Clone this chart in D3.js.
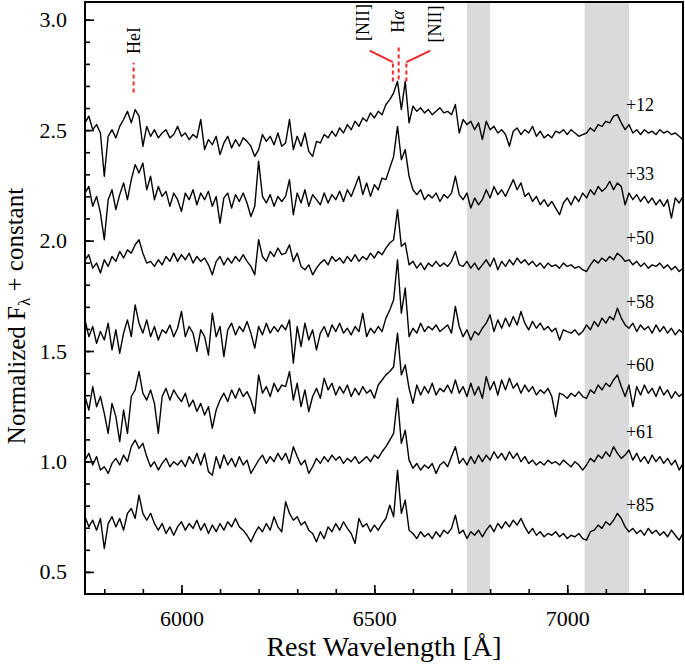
<!DOCTYPE html>
<meta charset="utf-8">
<script src="https://d3js.org/d3.v7.min.js"></script>
<style>
  body { margin: 0; background: #fff; }
  text { font-family: "Liberation Serif", "Times New Roman", serif; }
</style>
<svg id="chart" width="685" height="664"></svg>
<script>
// wavelength grid (Angstrom), one flux value per step
var wavelength = d3.range(5750, 7301, 10);

var epochs = ["+12", "+33", "+50", "+58", "+60", "+61", "+85"];

// normalized flux + constant
var flux12 = [
  2.533, 2.563, 2.502, 2.525, 2.487, 2.291, 2.472, 2.502, 2.465, 2.517,
  2.548, 2.585, 2.533, 2.593, 2.563, 2.427, 2.517, 2.472, 2.502, 2.465,
  2.487, 2.502, 2.465, 2.480, 2.517, 2.472, 2.487, 2.457, 2.480, 2.465,
  2.548, 2.412, 2.457, 2.434, 2.472, 2.389, 2.442, 2.472, 2.419, 2.457,
  2.427, 2.465, 2.449, 2.427, 2.381, 2.412, 2.480, 2.449, 2.472, 2.434,
  2.487, 2.427, 2.442, 2.548, 2.412, 2.472, 2.427, 2.487, 2.404, 2.381,
  2.449, 2.442, 2.480, 2.465, 2.495, 2.472, 2.510, 2.487, 2.525, 2.502,
  2.540, 2.517, 2.555, 2.540, 2.578, 2.555, 2.585, 2.570, 2.616, 2.638,
  2.669, 2.721, 2.593, 2.721, 2.533, 2.608, 2.585, 2.601, 2.578, 2.593,
  2.570, 2.585, 2.601, 2.578, 2.585, 2.570, 2.616, 2.487, 2.548, 2.525,
  2.540, 2.502, 2.533, 2.457, 2.540, 2.502, 2.517, 2.487, 2.502, 2.480,
  2.427, 2.495, 2.510, 2.480, 2.502, 2.487, 2.517, 2.472, 2.495, 2.465,
  2.480, 2.465, 2.495, 2.487, 2.502, 2.480, 2.502, 2.487, 2.472, 2.480,
  2.487, 2.510, 2.495, 2.525, 2.517, 2.540, 2.533, 2.563, 2.570, 2.533,
  2.502, 2.525, 2.487, 2.502, 2.480, 2.502, 2.487, 2.495, 2.480, 2.502,
  2.487, 2.495, 2.480, 2.487, 2.472, 2.457
];
var flux33 = [
  2.215, 2.245, 2.155, 2.200, 2.125, 2.004, 2.185, 2.230, 2.140, 2.208,
  2.261, 2.185, 2.276, 2.344, 2.306, 2.351, 2.230, 2.291, 2.185, 2.245,
  2.200, 2.223, 2.155, 2.215, 2.185, 2.132, 2.215, 2.185, 2.230, 2.162,
  2.215, 2.185, 2.223, 2.155, 2.200, 2.079, 2.193, 2.215, 2.147, 2.208,
  2.177, 2.215, 2.170, 2.109, 2.155, 2.359, 2.200, 2.170, 2.208, 2.155,
  2.200, 2.177, 2.200, 2.276, 2.117, 2.215, 2.170, 2.230, 2.155, 2.208,
  2.185, 2.162, 2.215, 2.170, 2.208, 2.185, 2.223, 2.177, 2.230, 2.200,
  2.245, 2.291, 2.208, 2.261, 2.200, 2.253, 2.230, 2.283, 2.276, 2.329,
  2.381, 2.517, 2.366, 2.412, 2.291, 2.230, 2.208, 2.230, 2.185, 2.208,
  2.193, 2.215, 2.177, 2.208, 2.193, 2.215, 2.291, 2.208, 2.185, 2.215,
  2.147, 2.193, 2.162, 2.185, 2.230, 2.193, 2.245, 2.208, 2.230, 2.200,
  2.238, 2.276, 2.230, 2.261, 2.200, 2.215, 2.177, 2.200, 2.162, 2.185,
  2.155, 2.177, 2.147, 2.117, 2.170, 2.193, 2.162, 2.200, 2.177, 2.215,
  2.193, 2.230, 2.208, 2.245, 2.223, 2.238, 2.268, 2.230, 2.261, 2.245,
  2.162, 2.215, 2.185, 2.208, 2.177, 2.200, 2.170, 2.193, 2.162, 2.185,
  2.155, 2.185, 2.102, 2.193, 2.170, 2.200
];
var flux50 = [
  1.913, 1.936, 1.875, 1.898, 1.853, 1.913, 1.883, 1.928, 1.906, 1.951,
  1.921, 1.958, 1.943, 1.981, 2.004, 1.943, 1.898, 1.906, 1.883, 1.913,
  1.890, 1.928, 1.906, 1.943, 1.906, 1.936, 1.913, 1.943, 1.898, 1.928,
  1.906, 1.921, 1.890, 1.845, 1.906, 1.928, 1.890, 1.921, 1.898, 1.928,
  1.906, 1.936, 1.906, 1.883, 1.845, 2.004, 1.928, 1.906, 1.951, 1.928,
  1.966, 1.936, 1.943, 1.981, 1.906, 1.943, 1.883, 1.868, 1.890, 1.845,
  1.875, 1.898, 1.913, 1.890, 1.928, 1.906, 1.921, 1.898, 1.928, 1.906,
  1.936, 1.906, 1.928, 1.913, 1.943, 1.921, 1.951, 1.936, 1.966, 1.989,
  2.004, 2.140, 1.974, 1.989, 1.890, 1.906, 1.875, 1.898, 1.868, 1.898,
  1.883, 1.906, 1.883, 1.898, 1.883, 1.906, 1.951, 1.890, 1.883, 1.906,
  1.875, 1.898, 1.868, 1.890, 1.913, 1.883, 1.921, 1.868, 1.906, 1.883,
  1.913, 1.890, 1.921, 1.898, 1.913, 1.890, 1.906, 1.883, 1.898, 1.875,
  1.898, 1.883, 1.890, 1.875, 1.898, 1.883, 1.890, 1.875, 1.883, 1.868,
  1.860, 1.890, 1.913, 1.898, 1.921, 1.906, 1.928, 1.913, 1.943, 1.928,
  1.906, 1.913, 1.890, 1.906, 1.883, 1.898, 1.875, 1.890, 1.883, 1.898,
  1.875, 1.890, 1.868, 1.883, 1.860, 1.875
];
var flux58 = [
  1.641, 1.565, 1.611, 1.535, 1.588, 1.550, 1.626, 1.505, 1.596, 1.490,
  1.581, 1.641, 1.565, 1.709, 1.626, 1.581, 1.641, 1.565, 1.611, 1.550,
  1.596, 1.581, 1.618, 1.565, 1.603, 1.679, 1.565, 1.611, 1.581, 1.498,
  1.596, 1.565, 1.482, 1.671, 1.565, 1.611, 1.475, 1.596, 1.626, 1.573,
  1.611, 1.588, 1.634, 1.581, 1.513, 1.611, 1.573, 1.626, 1.581, 1.611,
  1.588, 1.618, 1.596, 1.641, 1.445, 1.611, 1.520, 1.626, 1.550, 1.596,
  1.505, 1.581, 1.611, 1.565, 1.618, 1.588, 1.626, 1.581, 1.603, 1.573,
  1.611, 1.588, 1.671, 1.565, 1.603, 1.581, 1.611, 1.588, 1.649, 1.686,
  1.732, 1.913, 1.671, 1.785, 1.565, 1.603, 1.581, 1.626, 1.588, 1.611,
  1.596, 1.618, 1.588, 1.603, 1.618, 1.581, 1.702, 1.611, 1.565, 1.596,
  1.550, 1.588, 1.573, 1.603, 1.626, 1.664, 1.588, 1.641, 1.603, 1.649,
  1.611, 1.656, 1.618, 1.679, 1.626, 1.596, 1.634, 1.603, 1.626, 1.596,
  1.611, 1.588, 1.603, 1.550, 1.596, 1.588, 1.581, 1.596, 1.573, 1.588,
  1.618, 1.596, 1.634, 1.611, 1.649, 1.626, 1.656, 1.641, 1.694, 1.649,
  1.618, 1.603, 1.626, 1.588, 1.618, 1.596, 1.611, 1.581, 1.618, 1.588,
  1.611, 1.581, 1.603, 1.573, 1.596, 1.581
];
var flux60 = [
  1.294, 1.233, 1.339, 1.248, 1.294, 1.218, 1.127, 1.263, 1.203, 1.090,
  1.233, 1.127, 1.294, 1.324, 1.407, 1.309, 1.278, 1.324, 1.263, 1.127,
  1.294, 1.331, 1.278, 1.324, 1.294, 1.271, 1.309, 1.248, 1.278, 1.226,
  1.263, 1.210, 1.248, 1.150, 1.233, 1.278, 1.309, 1.271, 1.324, 1.286,
  1.331, 1.294, 1.316, 1.278, 1.218, 1.392, 1.309, 1.339, 1.294, 1.354,
  1.316, 1.346, 1.339, 1.407, 1.278, 1.354, 1.248, 1.324, 1.226, 1.294,
  1.331, 1.286, 1.377, 1.324, 1.354, 1.301, 1.339, 1.309, 1.346, 1.294,
  1.331, 1.301, 1.339, 1.309, 1.324, 1.286, 1.346, 1.369, 1.392, 1.407,
  1.429, 1.581, 1.392, 1.437, 1.331, 1.263, 1.346, 1.301, 1.339, 1.309,
  1.354, 1.301, 1.331, 1.316, 1.346, 1.309, 1.369, 1.309, 1.339, 1.294,
  1.354, 1.301, 1.339, 1.286, 1.384, 1.324, 1.362, 1.301, 1.369, 1.324,
  1.377, 1.331, 1.354, 1.309, 1.346, 1.316, 1.339, 1.301, 1.324, 1.309,
  1.331, 1.294, 1.203, 1.309, 1.301, 1.286, 1.309, 1.294, 1.316, 1.294,
  1.286, 1.324, 1.309, 1.346, 1.324, 1.354, 1.339, 1.369, 1.392, 1.339,
  1.294, 1.346, 1.248, 1.339, 1.301, 1.346, 1.309, 1.331, 1.294, 1.339,
  1.301, 1.324, 1.286, 1.316, 1.294, 1.309
];
var flux61 = [
  1.006, 1.037, 0.984, 1.022, 0.961, 0.976, 0.946, 0.991, 1.014, 0.984,
  1.029, 0.999, 1.067, 1.097, 1.059, 1.082, 1.022, 0.976, 0.999, 0.961,
  0.991, 1.014, 0.976, 0.999, 0.984, 1.006, 0.976, 1.022, 0.991, 1.037,
  0.984, 1.037, 0.954, 0.938, 1.022, 0.969, 1.029, 0.984, 1.014, 0.976,
  1.022, 0.984, 1.006, 0.946, 0.976, 1.006, 1.029, 0.991, 1.022, 0.999,
  1.037, 1.006, 1.037, 0.991, 1.067, 1.022, 0.984, 1.006, 0.946, 0.976,
  1.014, 0.991, 1.022, 0.999, 1.029, 1.006, 1.022, 0.991, 1.014, 0.999,
  1.022, 0.991, 1.006, 1.022, 0.999, 1.029, 1.014, 1.044, 1.067, 1.097,
  1.127, 1.286, 1.082, 1.142, 1.006, 0.969, 0.991, 0.961, 0.984, 0.969,
  0.991, 0.946, 0.984, 0.999, 0.976, 1.022, 1.067, 0.991, 1.014, 0.984,
  1.022, 0.991, 1.029, 0.999, 1.029, 1.006, 1.044, 1.014, 1.037, 1.006,
  1.044, 1.014, 1.037, 0.999, 1.022, 0.991, 1.006, 0.984, 0.999, 0.984,
  1.006, 0.991, 0.999, 0.984, 1.006, 0.991, 0.976, 0.999, 0.984, 0.961,
  0.984, 1.014, 0.999, 1.029, 1.014, 1.044, 1.022, 1.067, 1.037, 1.014,
  1.029, 1.052, 1.006, 1.037, 0.999, 1.022, 0.991, 1.029, 0.999, 1.022,
  0.991, 1.014, 0.984, 1.006, 0.961, 0.991
];
var flux85 = [
  0.750, 0.704, 0.734, 0.689, 0.742, 0.606, 0.719, 0.750, 0.704, 0.742,
  0.689, 0.765, 0.787, 0.742, 0.848, 0.765, 0.734, 0.765, 0.719, 0.689,
  0.719, 0.674, 0.704, 0.666, 0.704, 0.727, 0.689, 0.719, 0.697, 0.734,
  0.689, 0.719, 0.674, 0.712, 0.682, 0.719, 0.689, 0.727, 0.704, 0.742,
  0.704, 0.689, 0.666, 0.636, 0.674, 0.704, 0.682, 0.719, 0.689, 0.750,
  0.704, 0.682, 0.818, 0.765, 0.734, 0.750, 0.712, 0.727, 0.689, 0.674,
  0.636, 0.682, 0.651, 0.704, 0.682, 0.719, 0.689, 0.727, 0.697, 0.674,
  0.629, 0.742, 0.704, 0.719, 0.682, 0.712, 0.689, 0.719, 0.742, 0.802,
  0.750, 0.961, 0.765, 0.825, 0.689, 0.674, 0.651, 0.682, 0.659, 0.674,
  0.651, 0.682, 0.659, 0.689, 0.674, 0.697, 0.757, 0.674, 0.689, 0.651,
  0.682, 0.666, 0.689, 0.659, 0.689, 0.712, 0.682, 0.719, 0.697, 0.727,
  0.704, 0.734, 0.712, 0.742, 0.704, 0.674, 0.697, 0.666, 0.682, 0.659,
  0.674, 0.666, 0.682, 0.659, 0.674, 0.651, 0.666, 0.659, 0.674, 0.651,
  0.644, 0.682, 0.689, 0.712, 0.697, 0.727, 0.712, 0.734, 0.765, 0.742,
  0.704, 0.682, 0.697, 0.674, 0.689, 0.666, 0.697, 0.674, 0.689, 0.666,
  0.682, 0.659, 0.689, 0.666, 0.644, 0.674
];
var spectra = [flux12, flux33, flux50, flux58, flux60, flux61, flux85];

// shaded telluric regions
var bandStart = [6740, 7045];
var bandEnd = [6800, 7160];

// marked lines
var heWave = 5876;
var niiBlue = 6548, haWave = 6563, niiRed = 6583;

var xMajor = [6000, 6500, 7000];
var yMajor = [0.5, 1.0, 1.5, 2.0, 2.5, 3.0];

// ---------------------------------------------------------------
var serif = "'Liberation Serif', 'Times New Roman', serif";
var svg = d3.select("#chart"),
    W = +svg.attr("width"),
    H = +svg.attr("height");
var margin = {top: 2, right: 2, bottom: 70, left: 85};
var x0 = margin.left, x1 = W - margin.right,
    y0 = H - margin.bottom, y1 = margin.top;

var x = d3.scaleLinear().domain([5750, 7300]).range([x0, x1]);
var y = d3.scaleLinear().domain([0.4, 3.08]).range([y0, y1]);

var red = "#f2252a";

// grey bands
svg.append("g")
  .selectAll("rect")
  .data(bandStart)
  .enter().append("rect")
    .attr("x", function(d) { return x(d); })
    .attr("width", function(d, i) { return x(bandEnd[i]) - x(d); })
    .attr("y", y1)
    .attr("height", y0 - y1)
    .attr("fill", "#d9dadc");

// spectra
var line = d3.line()
  .x(function(d, i) { return x(wavelength[i]); })
  .y(function(d) { return y(d); });

svg.append("g")
  .selectAll("path")
  .data(spectra)
  .enter().append("path")
    .attr("d", line)
    .attr("fill", "none")
    .attr("stroke", "#000")
    .attr("stroke-width", 1.4)
    .attr("stroke-linejoin", "round");

// epoch labels, placed just above each spectrum's red end
svg.append("g")
  .selectAll("text")
  .data(epochs)
  .enter().append("text")
    .attr("x", x(7152))
    .attr("y", function(d, i) {
      var tail = spectra[i].filter(function(v, j) { return wavelength[j] >= 7150; });
      return y(d3.mean(tail) + 0.125);
    })
    .attr("dy", "0.35em")
    .style("font-family", serif)
    .style("font-size", "18px")
    .text(function(d) { return d; });

// axes (ticks point inwards)
function minorTicks(lo, hi, step) {
  return d3.range(lo, hi + step / 2, step);
}
svg.append("g")
  .attr("transform", "translate(0," + y0 + ")")
  .call(d3.axisBottom(x).tickValues(minorTicks(5800, 7200, 100)).tickSize(-5).tickFormat(""))
  .call(function(g) { g.select(".domain").remove(); });
svg.append("g")
  .attr("class", "xmajor")
  .attr("transform", "translate(0," + y0 + ")")
  .call(d3.axisBottom(x).tickValues(xMajor).tickSize(-9).tickPadding(16).tickFormat(d3.format("d")))
  .call(function(g) { g.select(".domain").remove(); });
svg.append("g")
  .attr("transform", "translate(" + x0 + ",0)")
  .call(d3.axisLeft(y).tickValues(minorTicks(0.5, 3.0, 0.1)).tickSize(-5).tickFormat(""))
  .call(function(g) { g.select(".domain").remove(); });
svg.append("g")
  .attr("class", "ymajor")
  .attr("transform", "translate(" + x0 + ",0)")
  .call(d3.axisLeft(y).tickValues(yMajor).tickSize(-9).tickPadding(18).tickFormat(d3.format(".1f")))
  .call(function(g) { g.select(".domain").remove(); });

svg.selectAll(".tick line").attr("stroke", "#000").attr("stroke-width", 1.6);
svg.selectAll(".xmajor, .ymajor").attr("font-family", serif).attr("font-size", 22);
svg.selectAll(".xmajor text, .ymajor text")
  .style("font-family", serif)
  .style("font-size", "22px")
  .attr("fill", "#000");

// frame
svg.append("rect")
  .attr("x", x0).attr("y", y1)
  .attr("width", x1 - x0).attr("height", y0 - y1)
  .attr("fill", "none")
  .attr("stroke", "#000")
  .attr("stroke-width", 2);

// axis titles
svg.append("text")
  .attr("x", (x0 + x1) / 2)
  .attr("y", H - 8)
  .attr("text-anchor", "middle")
  .style("font-family", serif)
  .style("font-size", "28px")
  .text("Rest Wavelength [Å]");

var yt = svg.append("text")
  .attr("transform", "translate(25," + 316 + ") rotate(-90)")
  .attr("text-anchor", "middle")
  .style("font-family", serif)
  .style("font-size", "25px");
yt.append("tspan").text("Normalized F");
yt.append("tspan").attr("dy", "0.3em").style("font-size", "17px").text("λ");
yt.append("tspan").attr("dy", "-0.3em").text(" + constant");

// line markers
var marks = svg.append("g")
  .attr("stroke", red)
  .attr("stroke-width", 2)
  .attr("fill", "none");

function dashed(wl, lo, hi) {
  marks.append("line")
    .attr("x1", x(wl)).attr("x2", x(wl))
    .attr("y1", y(lo)).attr("y2", y(hi))
    .attr("stroke-dasharray", "4,3");
}
dashed(heWave, 2.67, 2.805);
dashed(niiBlue, 2.72, 2.808);
dashed(haWave, 2.729, 2.888);
dashed(niiRed, 2.72, 2.808);

marks.append("line")
  .attr("x1", x(niiBlue)).attr("y1", y(2.808))
  .attr("x2", x(6488)).attr("y2", y(2.86));
marks.append("line")
  .attr("x1", x(niiRed)).attr("y1", y(2.808))
  .attr("x2", x(6645)).attr("y2", y(2.86));

function vlabel(wl, v, parts) {
  var t = svg.append("text")
    .attr("transform", "translate(" + x(wl) + "," + y(v) + ") rotate(-90)")
    .attr("text-anchor", "middle")
    .attr("dy", "0.35em")
    .style("font-family", serif)
    .style("font-size", "18px");
  parts.forEach(function(p) {
    var s = t.append("tspan").text(p[0]);
    if (p[1]) s.style("font-style", "italic");
  });
}
vlabel(heWave, 2.906, [["HeI"]]);
vlabel(6471, 2.987, [["[NII]"]]);
vlabel(6561, 2.992, [["H"], ["α", true]]);
vlabel(6657, 2.98, [["[NII]"]]);
</script>
